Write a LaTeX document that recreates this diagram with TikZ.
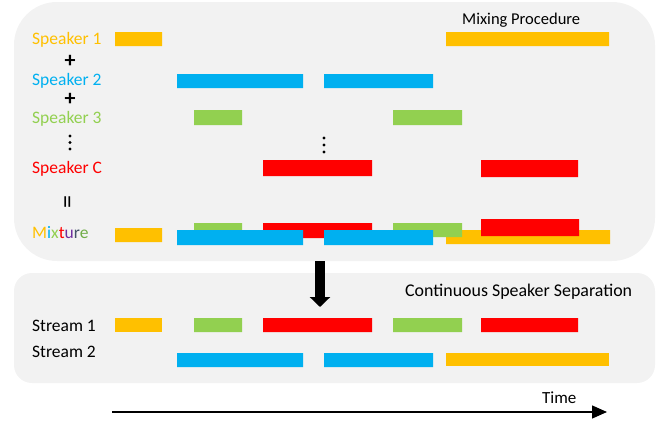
\documentclass[tikz,border=0pt]{standalone}
\usepackage{fontspec}
\setmainfont{Carlito}
\usetikzlibrary{arrows.meta}
\definecolor{cOr}{HTML}{FFC000}
\definecolor{cBl}{HTML}{00B0F0}
\definecolor{cGr}{HTML}{92D050}
\definecolor{cRd}{HTML}{FF0000}
\definecolor{cPu}{HTML}{7030A0}
\definecolor{cSl}{HTML}{44546A}
\definecolor{cDg}{HTML}{70AD47}
\definecolor{cPanel}{HTML}{F2F2F2}
\tikzset{
  panel/.style={fill=cPanel, draw=none, inner sep=0},
  lbl/.style={anchor=base west, inner sep=0, font=\fontsize{17.5}{20}\selectfont},
  ttl/.style={anchor=base west, inner sep=0, font=\fontsize{17}{20}\selectfont},
  sym/.style={inner sep=0, font=\fontsize{22}{24}\selectfont\bfseries},
}
\begin{document}
\begin{tikzpicture}[x=1pt,y=-1pt]
\useasboundingbox (0,0) rectangle (662,423);
% panels
\node[panel, rounded corners=43pt, minimum width=641pt, minimum height=259pt] (top) at (334.5,131.5) {};
\node[panel, rounded corners=18pt, minimum width=641pt, minimum height=110pt] (bot) at (334.5,328) {};
% titles
\node[ttl, font=\fontsize{16.5}{20}\selectfont] (t1) at (462,24) {Mixing Procedure};
\node[ttl, font=\fontsize{17.9}{20}\selectfont] (t2) at (405,296) {Continuous Speaker Separation};
% labels
\node[lbl, text=cOr] (s1) at (32,45) {Speaker 1};
\node[sym] (p1) at (70,61) {+};
\node[lbl, text=cBl] (s2) at (32,85) {Speaker 2};
\node[sym] (p2) at (70,99) {+};
\node[lbl, text=cGr] (s3) at (32,123) {Speaker 3};
\fill (70,136) circle (1.6) (70,142.5) circle (1.6) (70,149) circle (1.6);
\node[lbl, text=cRd] (sc) at (32,173) {Speaker C};
\node[inner sep=0, rotate=90, font=\fontsize{26}{28}\selectfont] (eq) at (70,202) {=};
\node[lbl] (mx) at (32,238) {\textcolor{cOr}{M}\textcolor{cBl}{i}\textcolor{cGr}{x}\textcolor{cRd}{t}\textcolor{cPu}{u}\textcolor{cSl}{r}\textcolor{cDg}{e}};
\node[lbl] (st1) at (32,331) {Stream 1};
\node[lbl] (st2) at (32,357) {Stream 2};
% middle dots
\fill (324,138) circle (1.6) (324,145) circle (1.6) (324,152) circle (1.6);
% speaker bars
\fill[cOr] (115,32) rectangle (162,46) (446,32) rectangle (609,46);
\fill[cBl] (177,74) rectangle (303,88) (324,74) rectangle (433,88);
\fill[cGr] (194,110) rectangle (242,125) (393,110) rectangle (462,125);
\fill[cRd] (263,160) rectangle (372,176) (481,160) rectangle (578,177);
% mixture bars
\fill[cOr] (115,228) rectangle (162,242) (446,230) rectangle (610,244);
\fill[cGr] (194,223) rectangle (242,237) (393,223) rectangle (462,237);
\fill[cRd] (263,223) rectangle (372,238) (481,219) rectangle (579,236);
\fill[cBl] (177,230) rectangle (303,245) (324,230) rectangle (433,245);
% stream bars
\fill[cOr] (115,318) rectangle (162,332);
\fill[cGr] (194,318) rectangle (242,332) (393,318) rectangle (462,332);
\fill[cRd] (263,318) rectangle (372,332) (481,318) rectangle (578,332);
\fill[cBl] (177,353) rectangle (303,367) (324,353) rectangle (433,367);
\fill[cOr] (446,353) rectangle (609,366);
% big arrow
\coordinate (ba) at (320,261);
\coordinate (bb) at (320,307);
\draw[line width=10pt, -{Triangle[length=10pt,width=20pt]}] (ba) -- (bb);
% time axis
\coordinate (ta) at (112,412);
\coordinate (tb) at (607,412);
\draw[line width=1.3pt, -{Triangle[length=15pt,width=13pt]}] (ta) -- (tb);
\node[ttl] (time) at (542,403) {Time};
\end{tikzpicture}
\end{document}
